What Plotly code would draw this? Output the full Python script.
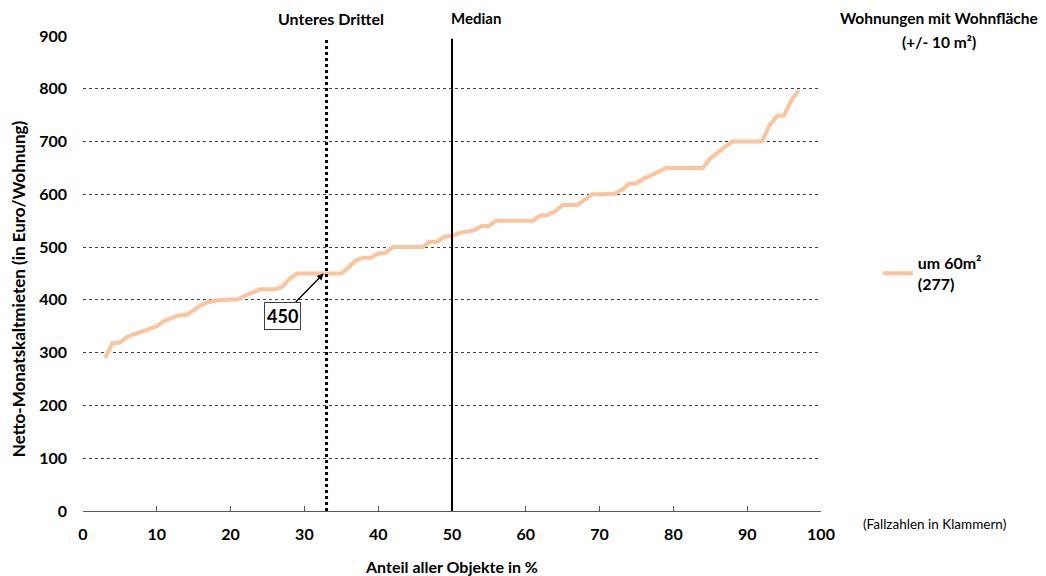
import plotly.graph_objects as go

# Data
anteil = list(range(3, 98))
miete = [290, 318, 319, 330, 335, 340, 346, 350, 360, 366,
         371, 371, 380, 390, 396, 399, 400, 400, 401, 408,
         415, 420, 420, 420, 425, 440, 450, 450, 450, 450,
         450, 450, 450, 462, 475, 480, 480, 488, 489, 500,
         500, 500, 500, 500, 510, 510, 520, 521, 527, 530,
         532, 540, 540, 550, 550, 550, 550, 550, 550, 560,
         561, 568, 580, 580, 580, 590, 600, 600, 600, 601,
         608, 620, 621, 630, 636, 643, 650, 650, 650, 650,
         650, 650, 668, 680, 690, 700, 700, 700, 700, 700,
         730, 748, 750, 778, 798]
x_ticks = [0, 10, 20, 30, 40, 50, 60, 70, 80, 90, 100]
y_ticks = [0, 100, 200, 300, 400, 500, 600, 700, 800, 900]
series_name = "<b>um 60m²<br>(277)</b>"
unteres_drittel = 33
median = 50
marked_value = 450

FONT = "Lato"
fig = go.Figure()

fig.add_trace(go.Scatter(
    x=anteil, y=miete, mode="lines", name=series_name,
    line=dict(color="#FFC39C", width=4),
))

# Vertical reference lines
fig.add_shape(type="line", x0=unteres_drittel, x1=unteres_drittel, y0=0, y1=895,
              xref="x", yref="y", line=dict(color="black", width=3, dash="dot"))
fig.add_shape(type="line", x0=median, x1=median, y0=0, y1=895,
              xref="x", yref="y", line=dict(color="black", width=2))

annotations = [
    dict(x=33.6, y=1.0, xref="x", yref="paper", yanchor="middle", yshift=18,
         text="<b>Unteres Drittel</b>", showarrow=False,
         font=dict(family=FONT, size=16, color="black")),
    dict(x=53.2, y=1.0, xref="x", yref="paper", yanchor="middle", yshift=18,
         text="<b>Median</b>", showarrow=False,
         font=dict(family=FONT, size=15, color="black")),
    dict(x=32.6, y=marked_value, xref="x", yref="y",
         text="<b>%d</b>" % marked_value, showarrow=True,
         ax=-41, ay=42, arrowhead=2, arrowsize=1, arrowwidth=1.3,
         arrowcolor="black", bordercolor="#404040", borderwidth=1,
         borderpad=2, bgcolor="white",
         font=dict(family=FONT, size=18, color="black")),
    dict(x=1.0, y=1.0, xref="paper", yref="paper", xanchor="center", yanchor="middle",
         xshift=118, yshift=18,
         text="<b>Wohnungen mit Wohnfläche</b>", showarrow=False,
         font=dict(family=FONT, size=15.5, color="black")),
    dict(x=1.0, y=1.0, xref="paper", yref="paper", xanchor="center", yanchor="middle",
         xshift=118, yshift=-6,
         text="<b>(+/- 10 m²)</b>", showarrow=False,
         font=dict(family=FONT, size=15.5, color="black")),
    dict(x=1.0, y=0.0, xref="paper", yref="paper", xanchor="left", yanchor="middle",
         xshift=40, yshift=-13,
         text="(Fallzahlen in Klammern)", showarrow=False,
         font=dict(family=FONT, size=13.5, color="black")),
    dict(x=0.0, y=0.467, xref="paper", yref="paper", xanchor="center", yanchor="middle",
         xshift=-65, textangle=-90,
         text="<b>Netto-Monatskaltmieten (in Euro/Wohnung)</b>", showarrow=False,
         font=dict(family=FONT, size=17, color="black")),
]

fig.update_layout(
    width=1038, height=568,
    margin=dict(l=75, r=225, t=28, b=65),
    paper_bgcolor="white", plot_bgcolor="white",
    font=dict(family=FONT, color="black"),
    showlegend=True,
    legend=dict(x=1.077, y=0.5, xref="paper", yref="paper", xanchor="left", yanchor="middle",
                font=dict(family=FONT, size=16, color="black"),
                bgcolor="rgba(0,0,0,0)", itemwidth=30),
    annotations=annotations,
    xaxis=dict(range=[0, 100], tickvals=x_ticks, automargin=False,
               ticktext=["<b>%d</b>" % v for v in x_ticks],
               tickfont=dict(family=FONT, size=16, color="black"),
               showgrid=False, zeroline=False,
               showline=True, linecolor="#595959", linewidth=1,
               ticks="inside", ticklen=5, tickcolor="#595959",
               ticklabelstandoff=9,
               title=dict(text="<b>Anteil aller Objekte in %</b>",
                          font=dict(family=FONT, size=16, color="black"), standoff=21)),
    yaxis=dict(range=[0, 900], tickvals=y_ticks, automargin=False,
               ticktext=["<b>%d</b>" % v for v in y_ticks],
               tickfont=dict(family=FONT, size=16, color="black"),
               showgrid=True, gridcolor="#404040", gridwidth=1, griddash="dot",
               zeroline=False, showline=False, ticks="", ticklabelstandoff=15),
)

fig.write_html("out.html")
